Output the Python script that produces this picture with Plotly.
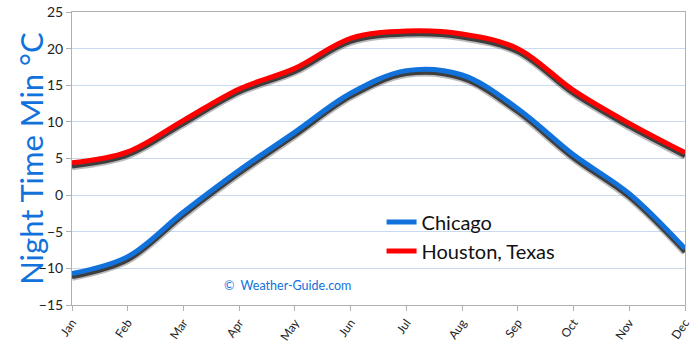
import plotly.graph_objects as go

months = ["Jan", "Feb", "Mar", "Apr", "May", "Jun", "Jul", "Aug", "Sep", "Oct", "Nov", "Dec"]
chicago = [-10.7, -8.4, -2.3, 3.4, 8.6, 13.9, 17.0, 16.4, 11.8, 5.5, 0.2, -7.3]
houston = [4.4, 5.9, 10.2, 14.5, 17.3, 21.4, 22.4, 22.0, 20.0, 14.3, 9.8, 5.8]
y_ticks = [-15, -10, -5, 0, 5, 10, 15, 20, 25]

BLUE = "#1272dc"
RED = "#ff0000"
SHADOW_SHIFT = 0.45

fig = go.Figure()
for name, vals, col in [("Chicago", chicago, BLUE), ("Houston, Texas", houston, RED)]:
    sh = [v - SHADOW_SHIFT for v in vals]
    fig.add_trace(go.Scatter(x=months, y=sh, mode="lines", showlegend=False, hoverinfo="skip",
                             line=dict(color="rgba(60,60,60,0.35)", width=8, shape="spline", smoothing=1.0)))
    fig.add_trace(go.Scatter(x=months, y=sh, mode="lines", showlegend=False, hoverinfo="skip",
                             line=dict(color="rgba(40,40,40,0.85)", width=4.5, shape="spline", smoothing=1.0)))
for name, vals, col in [("Chicago", chicago, BLUE), ("Houston, Texas", houston, RED)]:
    fig.add_trace(go.Scatter(x=months, y=vals, mode="lines", name=name,
                             line=dict(color=col, width=5, shape="spline", smoothing=1.0)))

fig.add_annotation(x=0.245, y=-12.3, xref="paper", yref="y", text="©  Weather-Guide.com",
                   showarrow=False, xanchor="left", yanchor="middle",
                   font=dict(family="Lato, DejaVu Sans", size=12.5, color=BLUE))
fig.add_annotation(x=-0.068, y=0.5, xref="paper", yref="paper", text="Night Time Min °C",
                   showarrow=False, textangle=-90, xanchor="center", yanchor="middle",
                   font=dict(family="Lato, DejaVu Sans", size=31, color=BLUE))

fig.update_layout(
    width=700, height=345,
    margin=dict(l=72, r=15, t=12, b=40, autoexpand=False),
    paper_bgcolor="white", plot_bgcolor="white",
    showlegend=True,
    legend=dict(x=0.505, y=0.35, xanchor="left", yanchor="top", bgcolor="rgba(0,0,0,0)",
                font=dict(family="Lato, DejaVu Sans", size=20, color="#111"),
                itemwidth=30, tracegroupgap=0),
    xaxis=dict(range=[0, 11], showgrid=False, showline=True, linecolor="#b0b0b0", linewidth=1,
               mirror=True, ticks="outside", ticklen=5, tickcolor="#b0b0b0", automargin=False,
               tickangle=-55, tickfont=dict(family="Lato, DejaVu Sans", size=12, color="#222"),
               zeroline=False),
    yaxis=dict(range=[-15, 25], tickvals=y_ticks, showgrid=True, gridcolor="#c9d9ef", gridwidth=1,
               showline=True, linecolor="#b0b0b0", linewidth=1, mirror=True, automargin=False,
               ticks="outside", ticklen=5, tickcolor="#b0b0b0",
               tickfont=dict(family="Lato, DejaVu Sans", size=14, color="#222"),
               zeroline=False),
)

fig.write_html("out.html")
